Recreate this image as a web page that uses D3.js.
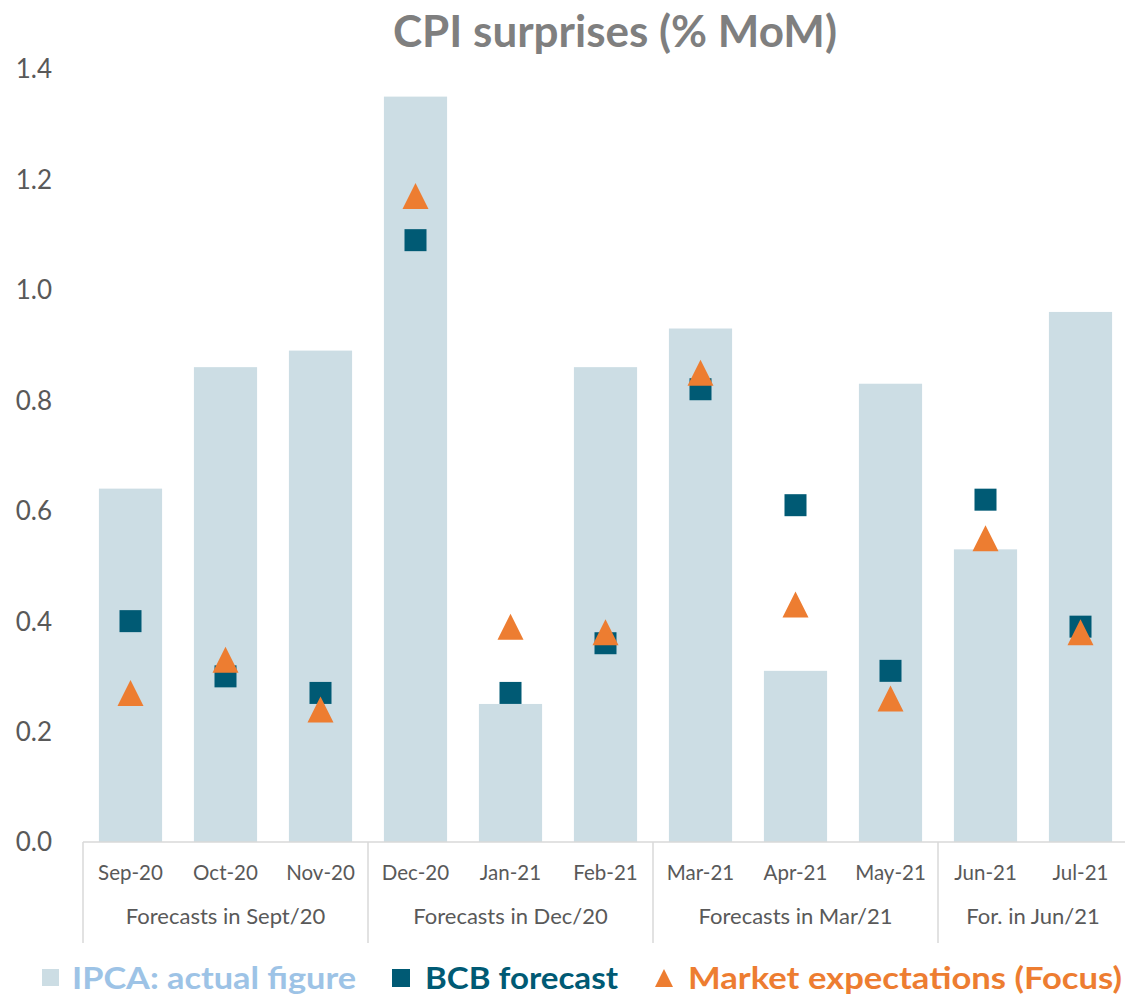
<!DOCTYPE html>
<html>
<head>
<meta charset="utf-8">
<script src="https://cdn.jsdelivr.net/npm/d3@7"></script>
<style>
  html, body { margin: 0; padding: 0; background: #fff; }
  svg { display: block; font-family: Lato, "Open Sans", sans-serif; }
</style>
</head>
<body>
<div id="chart"></div>
<script>
// Monthly CPI (IPCA) outturns vs. forecasts, % month-on-month
const months = ["Sep-20", "Oct-20", "Nov-20", "Dec-20", "Jan-21", "Feb-21",
                "Mar-21", "Apr-21", "May-21", "Jun-21", "Jul-21"];
const groupLabels = ["Forecasts in Sept/20", "Forecasts in Dec/20", "Forecasts in Mar/21", "For. in Jun/21"];
const groupSizes = [3, 3, 3, 2];
const ipcaActual = [0.64, 0.86, 0.89, 1.35, 0.25, 0.86, 0.93, 0.31, 0.83, 0.53, 0.96];
const bcbForecast = [0.40, 0.30, 0.27, 1.09, 0.27, 0.36, 0.82, 0.61, 0.31, 0.62, 0.39];
const focusExpect = [0.27, 0.33, 0.24, 1.17, 0.39, 0.38, 0.85, 0.43, 0.26, 0.55, 0.38];
const yTicks = [0, 0.2, 0.4, 0.6, 0.8, 1.0, 1.2, 1.4];
const legendItems = ["IPCA: actual figure", "BCB forecast", "Market expectations (Focus)"];

const W = 1125, H = 996;
const colBar = "#ccdde4", colBcb = "#005a74", colFocus = "#ed7d31";
const colText = "#595959", colAxis = "#d9d9d9";

const svg = d3.select("#chart").append("svg")
  .attr("width", W).attr("height", H);

const x = d3.scaleBand().domain(months).range([83, 1128]).paddingInner(0.335).paddingOuter(0.1675);
const y = d3.scaleLinear().domain([0, 1.4]).range([842, 69]);

// title
svg.append("text")
  .attr("x", 393).attr("y", 47)
  .attr("fill", "#7f7f7f")
  .attr("font-weight", "bold")
  .attr("font-size", 44)
  .attr("textLength", 444).attr("lengthAdjust", "spacingAndGlyphs")
  .text("CPI surprises (% MoM)");

// y axis labels
svg.append("g").selectAll("text").data(yTicks).join("text")
  .attr("x", 52).attr("y", d => y(d))
  .attr("dy", "0.36em")
  .attr("text-anchor", "end")
  .attr("fill", colText)
  .attr("font-size", 26)
  .text(d => d.toFixed(1));

// bars
svg.append("g").selectAll("rect").data(months).join("rect")
  .attr("x", d => x(d))
  .attr("width", x.bandwidth())
  .attr("y", (d, i) => y(ipcaActual[i]))
  .attr("height", (d, i) => y(0) - y(ipcaActual[i]))
  .attr("fill", colBar);

// category axis line
svg.append("line")
  .attr("x1", 83).attr("x2", W).attr("y1", y(0)).attr("y2", y(0))
  .attr("stroke", colAxis).attr("stroke-width", 1.5);

// group boundaries
let start = 0;
const bounds = [0];
groupSizes.forEach(n => { start += n; bounds.push(start); });
const step = x.step();
const x0 = x.range()[0];
svg.append("g").selectAll("line").data(bounds).join("line")
  .attr("x1", d => x0 + d * step).attr("x2", d => x0 + d * step)
  .attr("y1", y(0)).attr("y2", 943)
  .attr("stroke", colAxis).attr("stroke-width", 1.5);

// month labels
svg.append("g").selectAll("text").data(months).join("text")
  .attr("x", d => x(d) + x.bandwidth() / 2)
  .attr("y", 880)
  .attr("text-anchor", "middle")
  .attr("fill", colText)
  .attr("font-size", 20.5)
  .text(d => d);

// group labels
svg.append("g").selectAll("text").data(groupLabels).join("text")
  .attr("x", (d, i) => x0 + (bounds[i] + bounds[i + 1]) / 2 * step)
  .attr("y", 924)
  .attr("text-anchor", "middle")
  .attr("fill", colText)
  .attr("font-size", 22)
  .text(d => d);

// BCB forecast squares
const sq = 22;
svg.append("g").selectAll("rect").data(months).join("rect")
  .attr("x", d => x(d) + x.bandwidth() / 2 - sq / 2)
  .attr("y", (d, i) => y(bcbForecast[i]) - sq / 2)
  .attr("width", sq).attr("height", sq)
  .attr("fill", colBcb);

// Focus market expectation triangles
const tri = (cx, cy, s) => `M${cx},${cy - s / 2}L${cx + s / 2},${cy + s / 2}L${cx - s / 2},${cy + s / 2}Z`;
svg.append("g").selectAll("path").data(months).join("path")
  .attr("d", (d, i) => tri(x(d) + x.bandwidth() / 2, y(focusExpect[i]), 26))
  .attr("fill", colFocus);

// legend
const lg = svg.append("g").attr("font-weight", "bold").attr("font-size", 31);
const ly = 978;
lg.append("rect").attr("x", 42).attr("y", ly - 9).attr("width", 17).attr("height", 17).attr("fill", colBar);
lg.append("text").attr("x", 72).attr("y", ly).attr("dy", "0.35em").attr("fill", "#9dc3e6")
  .attr("textLength", 284).attr("lengthAdjust", "spacingAndGlyphs").text(legendItems[0]);
lg.append("rect").attr("x", 392).attr("y", ly - 9).attr("width", 18).attr("height", 18).attr("fill", colBcb);
lg.append("text").attr("x", 425).attr("y", ly).attr("dy", "0.35em").attr("fill", colBcb)
  .attr("textLength", 193).attr("lengthAdjust", "spacingAndGlyphs").text(legendItems[1]);
lg.append("path").attr("d", tri(664, ly, 18)).attr("fill", colFocus);
lg.append("text").attr("x", 688).attr("y", ly).attr("dy", "0.35em").attr("fill", colFocus)
  .attr("textLength", 434).attr("lengthAdjust", "spacingAndGlyphs").text(legendItems[2]);
</script>
</body>
</html>
